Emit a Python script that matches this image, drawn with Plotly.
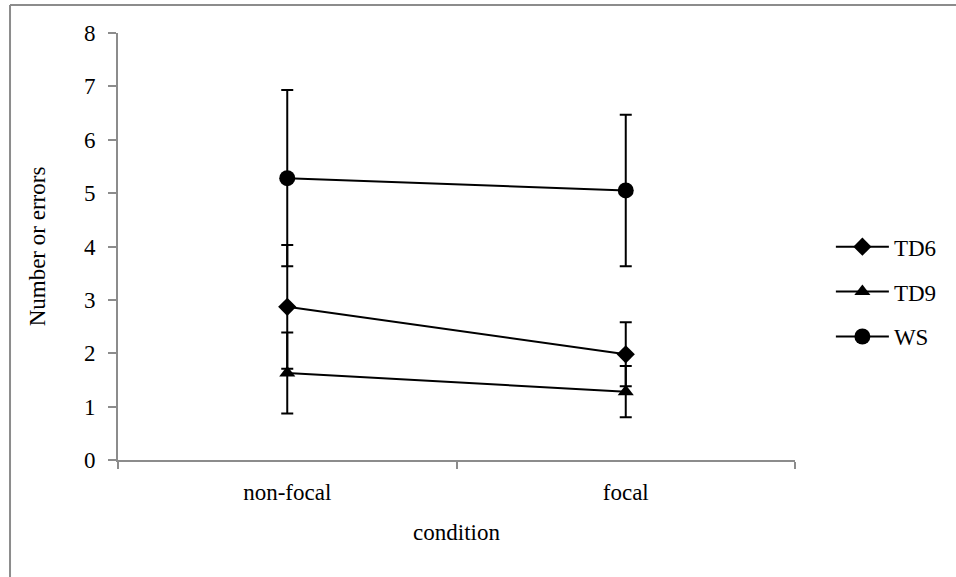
import plotly.graph_objects as go

categories = ["non-focal", "focal"]
series_names = ["TD6", "TD9", "WS"]
td6_values = [2.87, 1.98]
td6_errors = [1.16, 0.60]
td9_values = [1.63, 1.28]
td9_errors = [0.76, 0.48]
ws_values = [5.28, 5.05]
ws_errors = [1.65, 1.42]
y_ticks = [0, 1, 2, 3, 4, 5, 6, 7, 8]

FONT = "Liberation Serif, Times New Roman, serif"
FS = 23
symbols = ["diamond", "triangle-up", "circle"]
sizes = [14, 14, 16]
values = [td6_values, td9_values, ws_values]
errors = [td6_errors, td9_errors, ws_errors]

fig = go.Figure()
for name, vals, errs, sym, sz in zip(series_names, values, errors, symbols, sizes):
    fig.add_trace(go.Scatter(
        x=categories, y=vals, name=name, legendgroup=name,
        mode="lines+markers",
        line=dict(color="black", width=2),
        marker=dict(symbol=sym, size=sz, color="black"),
        error_y=dict(type="data", array=errs, visible=True,
                     color="black", thickness=2, width=6),
    ))

axis_gray = "#8c8c8c"
fig.update_layout(
    width=956, height=577,
    margin=dict(l=118, r=161, t=33, b=117),
    paper_bgcolor="white", plot_bgcolor="white",
    font=dict(family=FONT, size=FS, color="black"),
    showlegend=True,
    legend=dict(x=1.053, y=0.394, xanchor="left", yanchor="middle",
                font=dict(family=FONT, size=FS, color="black"),
                tracegroupgap=12, itemwidth=53, bgcolor="rgba(0,0,0,0)"),
    xaxis=dict(
        type="category", range=[-0.5, 1.5],
        showline=True, linecolor=axis_gray, linewidth=2,
        ticks="outside", tickson="boundaries", ticklen=7,
        tickcolor=axis_gray, tickwidth=2,
        showgrid=False, zeroline=False,
        ticklabelstandoff=10,
        title=dict(text="condition", font=dict(family=FONT, size=FS), standoff=20),
        tickfont=dict(family=FONT, size=FS),
    ),
    yaxis=dict(
        range=[0, 8], tickvals=y_ticks,
        showline=True, linecolor=axis_gray, linewidth=2,
        ticks="outside", ticklen=8, tickcolor=axis_gray, tickwidth=2,
        showgrid=False, zeroline=False,
        ticklabelstandoff=8,
        title=dict(text="Number or errors", font=dict(family=FONT, size=FS), standoff=32),
        tickfont=dict(family=FONT, size=FS),
    ),
    shapes=[
        dict(type="line", xref="paper", yref="paper",
             x0=-0.1595, x1=1.5, y0=1.0656, y1=1.0656,
             line=dict(color=axis_gray, width=2)),
        dict(type="line", xref="paper", yref="paper",
             x0=-0.1595, x1=-0.1595, y0=1.0656, y1=-0.5,
             line=dict(color=axis_gray, width=2)),
    ],
)

fig.write_html("out.html", config={"displayModeBar": False},
               post_script="document.body.style.margin='0';document.body.style.padding='0';")
